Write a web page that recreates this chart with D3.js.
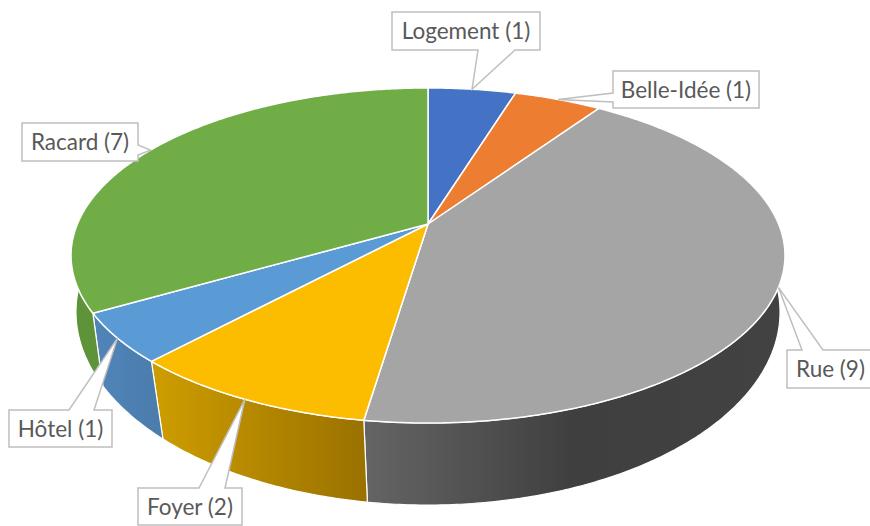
<!DOCTYPE html>
<html>
<head>
<meta charset="utf-8">
<script src="https://cdn.jsdelivr.net/npm/d3@7"></script>
<style>
	html, body { margin: 0; padding: 0; background: #fff; overflow: hidden; }
	svg { display: block; }
</style>
</head>
<body>
<div id="chart"></div>
<script>
const categories = ["Logement", "Belle-Idée", "Rue", "Foyer", "Hôtel", "Racard"];
const values = [1, 1, 9, 2, 1, 7];
const topColors = ["#4472c4", "#ed7d31", "#a5a5a5", "#fcbd00", "#5b9bd5", "#70ad47"];
// side wall shading, left to right
const sideColors = [
	["#335694", "#335694"],
	["#b25e25", "#b25e25"],
	["#646464", "#3f3f3f", "#424242"],
	["#cb9b00", "#9a7100"],
	["#5084b8", "#4a7cab"],
	["#5f9339", "#5f9339"]
];
// callout boxes: x0, y0, x1, y1, edge the pointer leaves from, pointer base
const calloutBoxes = [
	{ box: [392, 12, 540, 50], edge: "bottom", base: [478, 515] },
	{ box: [613, 71, 759, 108], edge: "left", base: [93, 102] },
	{ box: [787, 350, 874, 388], edge: "top", base: [802, 823] },
	{ box: [138, 488, 242, 525], edge: "top", base: [199, 225] },
	{ box: [9, 410, 112, 447], edge: "top", base: [69, 94] },
	{ box: [22, 123, 138, 161], edge: "right", base: [145, 155] }
];

const width = 870;
const height = 526;

// Perspective of the tilted disc, upper rim and lower rim
const cx = 428;
const upper = { cy: 224, rx: 350.6, ry: 161.6, persp: 0.188 };
const lower = { cy: 284, rx: 348.3, ry: 189, persp: 0.145 };

function rimPoint(rim, a) {
	const w = 1 + rim.persp * Math.cos(a);
	return [cx + rim.rx * Math.sin(a) / w, rim.cy - rim.ry * Math.cos(a) / w];
}
const topPoint = a => rimPoint(upper, a);
const lowerPoint = a => rimPoint(lower, a);

function rimAngles(a0, a1) {
	const n = Math.max(2, Math.ceil((a1 - a0) / 0.01));
	return d3.range(n + 1).map(i => a0 + (a1 - a0) * i / n);
}

const line = d3.line();

const pie = d3.pie().sort(null).value(d => d)
	.startAngle(0).endAngle(2 * Math.PI);
const slices = pie(values);

const svg = d3.select("#chart")
	.append("svg")
	.attr("width", width)
	.attr("height", height)
	.attr("viewBox", [0, 0, width, height]);

// Side wall gradients, in page coordinates so the shade follows x
const defs = svg.append("defs");
slices.forEach((d, i) => {
	const xs = rimAngles(d.startAngle, d.endAngle).map(a => lowerPoint(a)[0]);
	const grad = defs.append("linearGradient")
		.attr("id", "side" + i)
		.attr("gradientUnits", "userSpaceOnUse")
		.attr("x1", d3.min(xs))
		.attr("x2", d3.max(xs))
		.attr("y1", 0)
		.attr("y2", 0);
	sideColors[i].forEach((c, j) => {
		grad.append("stop")
			.attr("offset", j / (sideColors[i].length - 1))
			.attr("stop-color", c);
	});
});

// Side walls first, the top face covers the back part
svg.append("g")
	.selectAll("path")
	.data(slices)
	.join("path")
	.attr("fill", (d, i) => `url(#side${i})`)
	.attr("stroke", "#fff")
	.attr("stroke-width", 1.2)
	.attr("d", d => {
		const as = rimAngles(d.startAngle, d.endAngle);
		return line(as.map(topPoint).concat(as.slice().reverse().map(lowerPoint))) + "Z";
	});

// Top face
svg.append("g")
	.selectAll("path")
	.data(slices)
	.join("path")
	.attr("fill", (d, i) => topColors[i])
	.attr("stroke", "#fff")
	.attr("stroke-width", 1.5)
	.attr("stroke-linejoin", "round")
	.attr("d", d => line([[cx, upper.cy]].concat(rimAngles(d.startAngle, d.endAngle).map(topPoint))) + "Z");

// Callouts, pointer tip sits on the rim at the middle of the slice
function calloutPath(c, tip) {
	const [x0, y0, x1, y1] = c.box;
	const [b0, b1] = c.base;
	let pts;
	if (c.edge === "bottom") {
		pts = [[x0, y0], [x1, y0], [x1, y1], [b1, y1], tip, [b0, y1], [x0, y1]];
	} else if (c.edge === "top") {
		pts = [[x0, y0], [b0, y0], tip, [b1, y0], [x1, y0], [x1, y1], [x0, y1]];
	} else if (c.edge === "left") {
		pts = [[x0, y0], [x1, y0], [x1, y1], [x0, y1], [x0, b1], tip, [x0, b0]];
	} else {
		pts = [[x0, y0], [x1, y0], [x1, b0], tip, [x1, b1], [x1, y1], [x0, y1]];
	}
	return line(pts) + "Z";
}

const callouts = svg.append("g")
	.selectAll("g")
	.data(slices)
	.join("g");

callouts.append("path")
	.attr("fill", "#fff")
	.attr("stroke", "#bfbfbf")
	.attr("stroke-width", 1.5)
	.attr("d", (d, i) => calloutPath(calloutBoxes[i], topPoint((d.startAngle + d.endAngle) / 2)));

callouts.append("text")
	.attr("x", (d, i) => (calloutBoxes[i].box[0] + calloutBoxes[i].box[2]) / 2)
	.attr("y", (d, i) => (calloutBoxes[i].box[1] + calloutBoxes[i].box[3]) / 2 + 8)
	.attr("text-anchor", "middle")
	.attr("fill", "#595959")
	.style("font", "22.5px Lato, sans-serif")
	.text((d, i) => `${categories[i]} (${values[i]})`);
</script>
</body>
</html>
